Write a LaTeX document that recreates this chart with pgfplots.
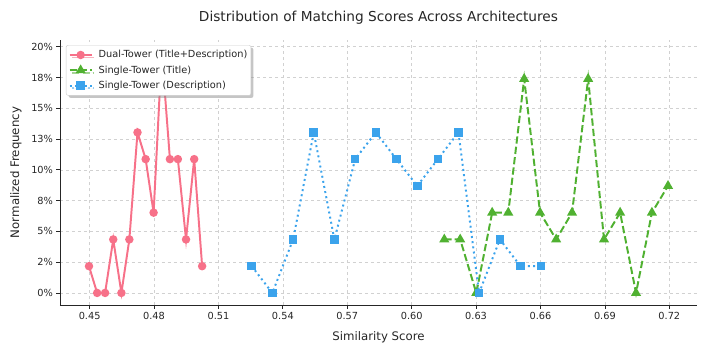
\documentclass[border=0pt]{standalone}
\usepackage{pgfplots}
\pgfplotsset{compat=1.18}
\usepackage{fontspec}
\setmainfont{DejaVu Sans}
\usetikzlibrary{shadows}
\definecolor{cred}{HTML}{F77189}
\definecolor{cgreen}{HTML}{50B131}
\definecolor{cblue}{HTML}{3BA3EC}
\definecolor{txt}{HTML}{262626}
\begin{document}
\begin{tikzpicture}
\useasboundingbox (-60bp,-49bp) rectangle (647bp,305bp);
\begin{axis}[
  at={(0,0)}, anchor=south west,
  scale only axis, width=637bp, height=265bp,
  xmin=0.4362, xmax=0.7329, ymin=-0.0098, ymax=0.2055,
  axis x line*=bottom, axis y line*=left,
  axis line style={-, line width=0.8bp, txt},
  xtick={0.45,0.48,0.51,0.54,0.57,0.60,0.63,0.66,0.69,0.72},
  xticklabels={0.45,0.48,0.51,0.54,0.57,0.60,0.63,0.66,0.69,0.72},
  ytick={0,0.025,0.05,0.075,0.1,0.125,0.15,0.175,0.2},
  yticklabels={0\%,2\%,5\%,8\%,10\%,13\%,15\%,18\%,20\%},
  grid=major, major grid style={dashed, black!18, line width=0.6bp},
  tick align=outside, major tick length=3.5bp,
  tick style={txt, line width=0.8bp},
  ticklabel style={font=\fontsize{9.8}{11}\selectfont, text=txt},
  xlabel={Similarity Score}, ylabel={Normalized Frequency},
  label style={font=\fontsize{11.8}{13}\selectfont, text=txt},
  xlabel style={at={(axis description cs:0.5,-0.1208)}, anchor=center},
  ylabel style={at={(axis description cs:-0.0691,0.5)}, anchor=center},
  title={Distribution of Matching Scores Across Architectures},
  title style={at={(axis description cs:0.5,1.0604)}, anchor=center, font=\fontsize{13.75}{15}\selectfont, text=txt},
  legend style={at={(axis description cs:0.0094,0.981)}, anchor=north west,
    font=\fontsize{9.8}{11}\selectfont, text=txt, fill=white, draw=black!20,
    rounded corners=2bp, drop shadow={shadow xshift=2.5bp, shadow yshift=-2.5bp, fill=black!45},
    inner xsep=2.5bp, inner ysep=4.3bp, row sep=4.4bp,
    nodes={inner sep=1bp},
    /tikz/every odd column/.append style={column sep=5bp}},
  legend cell align=left,
  legend image code/.code={
    \draw[mark repeat=2,mark phase=2] plot coordinates {(0bp,0bp) (11bp,0bp) (22bp,0bp)};},
]
\addplot[cred, line width=1.96bp, mark=*, mark size=3.2bp, mark options={solid}] table {
x y
0.4497 0.02174
0.4535 0
0.4572 0
0.4610 0.04348
0.4648 0
0.4685 0.04348
0.4723 0.13043
0.4761 0.10870
0.4798 0.06522
0.4836 0.19565
0.4874 0.10870
0.4911 0.10870
0.4949 0.04348
0.4987 0.10870
0.5024 0.02174
};
\addlegendentry{Dual-Tower (Title+Description)}
\addplot[cgreen, line width=1.96bp, dash pattern=on 7.3bp off 3.1bp, mark=triangle*, mark size=3.9bp, mark options={solid}] table {
x y
0.6152 0.04348
0.6226 0.04348
0.6301 0
0.6375 0.06522
0.6450 0.06522
0.6524 0.17391
0.6598 0.06522
0.6673 0.04348
0.6747 0.06522
0.6822 0.17391
0.6896 0.04348
0.6971 0.06522
0.7045 0
0.7119 0.06522
0.7194 0.08696
};
\addlegendentry{Single-Tower (Title)}
\addplot[cblue, line width=1.96bp, dash pattern=on 1.96bp off 3.24bp, mark=square*, mark size=3.3bp, mark options={solid}] table {
x y
0.5255 0.02174
0.5351 0
0.5448 0.04348
0.5544 0.13043
0.5640 0.04348
0.5737 0.10870
0.5833 0.13043
0.5929 0.10870
0.6026 0.08696
0.6122 0.10870
0.6218 0.13043
0.6314 0
0.6411 0.04348
0.6507 0.02174
0.6603 0.02174
};
\addlegendentry{Single-Tower (Description)}
\end{axis}
\end{tikzpicture}
\end{document}
